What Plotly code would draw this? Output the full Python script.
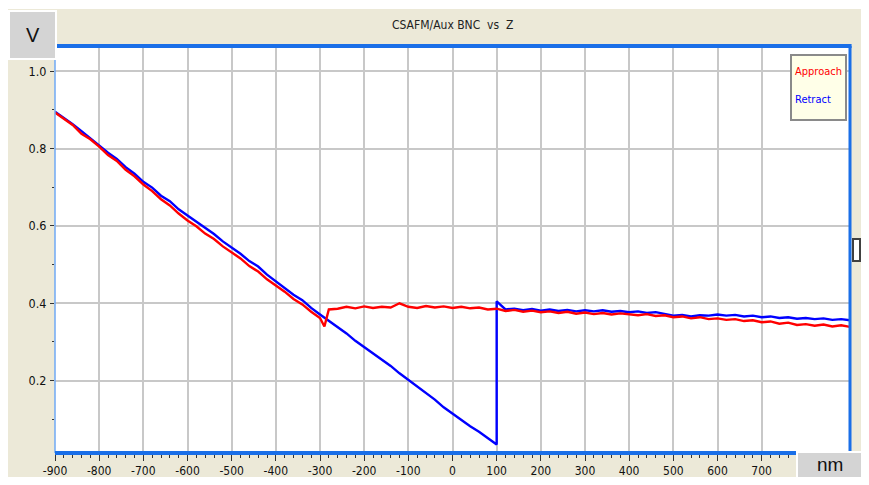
import plotly.graph_objects as go

# ---------------- data ----------------
approach_z = [-900, -880, -860, -840, -820, -800, -780, -760, -740, -720, -700,
              -680, -660, -640, -620, -600, -580, -560, -540, -520, -500,
              -480, -460, -440, -420, -400, -380, -360, -340, -320, -300,
              -290, -280, -260, -240, -220, -200, -180, -160, -140, -120, -100,
              -80, -60, -40, -20, 0, 20, 40, 60, 80, 100,
              120, 140, 160, 180, 200, 220, 240, 260, 280, 300,
              320, 340, 360, 380, 400, 420, 440, 460, 480, 500,
              520, 540, 560, 580, 600, 620, 640, 660, 680, 700,
              720, 740, 760, 780, 800, 820, 840, 860, 880, 900]
approach_v = [0.893, 0.877, 0.861, 0.838, 0.824, 0.805, 0.783, 0.768, 0.745, 0.728, 0.707,
              0.690, 0.669, 0.653, 0.632, 0.614, 0.599, 0.580, 0.566, 0.547, 0.532,
              0.516, 0.496, 0.482, 0.462, 0.446, 0.430, 0.411, 0.397, 0.378, 0.362,
              0.340, 0.384, 0.386, 0.391, 0.387, 0.392, 0.388, 0.391, 0.389, 0.400, 0.391,
              0.388, 0.393, 0.389, 0.392, 0.388, 0.391, 0.387, 0.389, 0.384, 0.386,
              0.380, 0.383, 0.378, 0.381, 0.377, 0.379, 0.375, 0.378, 0.373, 0.376,
              0.372, 0.375, 0.371, 0.374, 0.372, 0.369, 0.372, 0.367, 0.369, 0.364,
              0.366, 0.361, 0.364, 0.359, 0.361, 0.357, 0.359, 0.354, 0.356, 0.351,
              0.353, 0.347, 0.350, 0.344, 0.346, 0.342, 0.345, 0.340, 0.343, 0.339]

retract_z = [-900, -880, -860, -840, -820, -800, -780, -760, -740, -720, -700,
             -680, -660, -640, -620, -600, -580, -560, -540, -520, -500,
             -480, -460, -440, -420, -400, -380, -360, -340, -320, -300,
             -280, -260, -240, -220, -200, -180, -160, -140, -120, -100,
             -80, -60, -40, -20, 0, 20, 40, 60, 80, 100,
             100, 120, 140, 160, 180, 200, 220, 240, 260, 280, 300,
             320, 340, 360, 380, 400, 420, 440, 460, 480, 500,
             520, 540, 560, 580, 600, 620, 640, 660, 680, 700,
             720, 740, 760, 780, 800, 820, 840, 860, 880, 900]
retract_v = [0.895, 0.880, 0.863, 0.845, 0.826, 0.808, 0.789, 0.773, 0.752, 0.735, 0.714,
             0.699, 0.678, 0.664, 0.643, 0.627, 0.611, 0.593, 0.579, 0.560, 0.545,
             0.528, 0.509, 0.495, 0.474, 0.457, 0.441, 0.422, 0.408, 0.388, 0.371,
             0.355, 0.337, 0.322, 0.303, 0.287, 0.271, 0.253, 0.238, 0.219, 0.202,
             0.186, 0.167, 0.151, 0.131, 0.114, 0.099, 0.082, 0.068, 0.051, 0.035,
             0.405, 0.384, 0.386, 0.382, 0.385, 0.381, 0.384, 0.380, 0.383, 0.379, 0.382,
             0.379, 0.382, 0.378, 0.380, 0.377, 0.379, 0.375, 0.377, 0.372, 0.368,
             0.370, 0.366, 0.369, 0.368, 0.371, 0.368, 0.370, 0.366, 0.368, 0.364,
             0.366, 0.362, 0.364, 0.360, 0.362, 0.359, 0.361, 0.357, 0.359, 0.356]

x_ticks = [-900, -800, -700, -600, -500, -400, -300, -200, -100, 0, 100, 200, 300, 400, 500, 600, 700]
y_ticks = [0.2, 0.4, 0.6, 0.8, 1.0]

# ---------------- figure ----------------
# The page body has an 8px margin; the figure is kept inside the window
# (no scrollbars), starting at (8, 8).
OFF = 8
W, H = 869 - 2 * OFF, 485 - 2 * OFF
ML, MT = 55 - OFF, 46 - OFF
MR = W - (850 - OFF)
MB = H - (453 - OFF)
PW, PH = W - ML - MR, H - MT - MB


def px(x):
    """window x pixel -> paper coordinate"""
    return (x - OFF - ML) / PW


def py(y):
    """window y pixel -> paper coordinate"""
    return (H - MB - (y - OFF)) / PH


NARROW = "DejaVu Sans Condensed, Liberation Sans Narrow, sans-serif"
FRAME = "#1A6FE8"

fig = go.Figure()
fig.add_trace(go.Scatter(x=retract_z, y=retract_v, mode="lines", name="Retract",
                         line=dict(color="#0000FF", width=2.4)))
fig.add_trace(go.Scatter(x=approach_z, y=approach_v, mode="lines", name="Approach",
                         line=dict(color="#FF0000", width=2.4)))

shapes = [
    # white strip at the very top
    dict(type="rect", xref="paper", yref="paper", x0=px(0), x1=px(875), y0=py(9), y1=py(0),
         fillcolor="white", line=dict(width=0), layer="above"),
    # frame lines
    dict(type="line", xref="paper", yref="paper", x0=0, x1=0, y0=0, y1=1,
         line=dict(color="#6FA8F5", width=1.5), layer="above"),
    dict(type="line", xref="paper", yref="paper", x0=1, x1=1, y0=0, y1=1,
         line=dict(color=FRAME, width=3), layer="above"),
    dict(type="line", xref="paper", yref="paper", x0=0, x1=1.002, y0=1, y1=1,
         line=dict(color=FRAME, width=4), layer="above"),
    dict(type="line", xref="paper", yref="paper", x0=0, x1=1, y0=0, y1=0,
         line=dict(color=FRAME, width=4), layer="above"),
    # V box
    dict(type="rect", xref="paper", yref="paper", x0=px(9), x1=px(56), y0=py(59), y1=py(11),
         fillcolor="#D4D4D4", line=dict(color="white", width=2), layer="above"),
    # nm box
    dict(type="rect", xref="paper", yref="paper", x0=px(797), x1=px(875), y0=py(490), y1=py(452),
         fillcolor="#D4D4D4", line=dict(color="white", width=2), layer="above"),
    # legend box
    dict(type="rect", xref="paper", yref="paper", x0=px(791), x1=px(846), y0=py(120), y1=py(55),
         fillcolor="#FFFFE8", line=dict(color="#8A8A8A", width=2), layer="above"),
    # small square at the right
    dict(type="rect", xref="paper", yref="paper", x0=px(853), x1=px(860), y0=py(261), y1=py(239),
         fillcolor="white", line=dict(color="#404040", width=2), layer="above"),
]

annotations = [
    dict(text="CSAFM/Aux BNC  vs  Z", xref="paper", yref="paper", x=px(452), y=py(25),
         showarrow=False, xanchor="center", yanchor="middle",
         font=dict(family=NARROW, size=12, color="#222222")),
    dict(text="V", xref="paper", yref="paper", x=px(32.5), y=py(35),
         showarrow=False, xanchor="center", yanchor="middle",
         font=dict(family="Liberation Sans, Arial, sans-serif", size=20, color="#111111")),
    dict(text="nm", xref="paper", yref="paper", x=px(830), y=py(464),
         showarrow=False, xanchor="center", yanchor="middle",
         font=dict(family="Liberation Sans, Arial, sans-serif", size=19, color="#111111")),
    dict(text="Approach", xref="paper", yref="paper", x=px(793), y=py(72),
         showarrow=False, xanchor="left", yanchor="middle",
         font=dict(family=NARROW, size=11, color="#FF0000")),
    dict(text="Retract", xref="paper", yref="paper", x=px(793), y=py(99),
         showarrow=False, xanchor="left", yanchor="middle",
         font=dict(family=NARROW, size=11, color="#0000FF")),
]

fig.update_layout(
    width=W, height=H,
    margin=dict(l=ML, r=MR, t=MT, b=MB, pad=0, autoexpand=False),
    paper_bgcolor="#ECE9D8",
    plot_bgcolor="white",
    showlegend=False,
    shapes=shapes,
    annotations=annotations,
)

fig.update_xaxes(
    range=[-900, 900], tickvals=x_ticks, ticktext=[str(v) for v in x_ticks],
    showgrid=True, gridcolor="#C8C8C8", gridwidth=1.5,
    zeroline=False, showline=False, automargin=False,
    ticks="outside", ticklen=7, tickwidth=1, tickcolor="#333333",
    minor=dict(ticks="outside", ticklen=4, dtick=20, tick0=0, tickcolor="#333333", showgrid=False),
    tickfont=dict(family=NARROW, size=12, color="#111111"),
    ticklabelstandoff=0,
)
fig.update_yaxes(
    range=[0.013, 1.065], tickvals=y_ticks, ticktext=["%.1f" % v for v in y_ticks],
    showgrid=True, gridcolor="#C8C8C8", gridwidth=1.5,
    zeroline=False, showline=False, automargin=False,
    ticks="outside", ticklen=4, tickwidth=1, tickcolor="#333333",
    minor=dict(ticks="outside", ticklen=2, dtick=0.1, tick0=0, tickcolor="#333333", showgrid=False),
    tickfont=dict(family=NARROW, size=12.5, color="#111111"),
    ticklabelstandoff=1,
)

fig.write_html("out.html")
